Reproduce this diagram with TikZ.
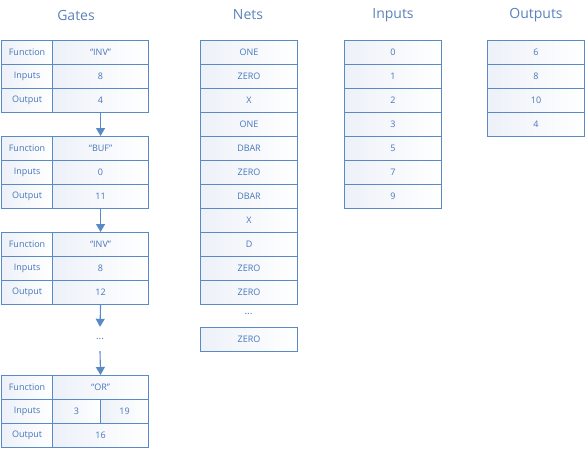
\documentclass[tikz,border=0pt]{standalone}
\usepackage{fontspec}
\setmainfont{Open Sans}
\usetikzlibrary{arrows.meta}
\definecolor{bordc}{HTML}{5A8AC6}
\definecolor{txtc}{HTML}{4677BA}
\definecolor{titc}{HTML}{5A82B8}
\definecolor{shadec}{HTML}{EDF1F8}
\tikzset{
  cell/.style={draw=bordc, line width=1.1pt, shade, shading angle=60, left color=shadec, right color=white,
    minimum height=24pt, inner sep=0pt, anchor=north west, text=txtc, font=\fontsize{9}{10}\selectfont},
  lab/.style={cell, minimum width=51pt},
  val/.style={cell, minimum width=96pt},
  half/.style={cell, minimum width=48pt},
  col/.style={cell, minimum width=97pt},
  title/.style={text=titc, font=\fontsize{14}{16}\selectfont, inner sep=0pt},
  dotsn/.style={text=txtc, font=\fontsize{10}{11}\selectfont, inner sep=0pt, minimum height=24pt},
  conn/.style={draw=bordc, line width=1.1pt, -{Triangle[width=9pt,length=8pt]}}
}
\begin{document}
\begin{tikzpicture}[x=1pt,y=-1pt]
\useasboundingbox (0,0) rectangle (585,448);
% titles
\node[title] (tg) at (76,15) {Gates};
\node[title] (tn) at (248,15) {Nets};
\node[title] (ti) at (393,15) {Inputs};
\node[title] (to) at (536,15) {Outputs};
% gate 1
\node[lab] (g1fl) at (1,40) {Function};
\node[val] (g1fv) at (52,40) {“INV”};
\node[lab] (g1il) at (1,64) {Inputs};
\node[val] (g1iv) at (52,64) {8};
\node[lab] (g1ol) at (1,88) {Output};
\node[val] (g1ov) at (52,88) {4};
% gate 2
\node[lab] (g2fl) at (1,136) {Function};
\node[val] (g2fv) at (52,136) {“BUF”};
\node[lab] (g2il) at (1,160) {Inputs};
\node[val] (g2iv) at (52,160) {0};
\node[lab] (g2ol) at (1,184) {Output};
\node[val] (g2ov) at (52,184) {11};
% gate 3
\node[lab] (g3fl) at (1,232) {Function};
\node[val] (g3fv) at (52,232) {“INV”};
\node[lab] (g3il) at (1,256) {Inputs};
\node[val] (g3iv) at (52,256) {8};
\node[lab] (g3ol) at (1,280) {Output};
\node[val] (g3ov) at (52,280) {12};
% dots
\node[dotsn] (gd) at (100,339) {...};
% gate 4
\node[lab] (g4fl) at (1,375) {Function};
\node[val] (g4fv) at (52,375) {“OR”};
\node[lab] (g4il) at (1,399) {Inputs};
\node[half] (g4ia) at (52,399) {3};
\node[half] (g4ib) at (100,399) {19};
\node[lab] (g4ol) at (1,423) {Output};
\node[val] (g4ov) at (52,423) {16};
% connectors
\draw[conn] (g1ov.south) -- (g2fv.north);
\draw[conn] (g2ov.south) -- (g3fv.north);
\draw[conn] (g3ov.south) -- (gd.north);
\draw[conn] (gd.south) -- (g4fv.north);
% nets
\node[col] (n1) at (200,40) {ONE};
\node[col] (n2) at (200,64) {ZERO};
\node[col] (n3) at (200,88) {X};
\node[col] (n4) at (200,112) {ONE};
\node[col] (n5) at (200,136) {DBAR};
\node[col] (n6) at (200,160) {ZERO};
\node[col] (n7) at (200,184) {DBAR};
\node[col] (n8) at (200,208) {X};
\node[col] (n9) at (200,232) {D};
\node[col] (n10) at (200,256) {ZERO};
\node[col] (n11) at (200,280) {ZERO};
\node[dotsn, minimum height=0pt] (nd) at (248.5,314) {...};
\node[col] (n12) at (200,327) {ZERO};
% inputs
\node[col] (i1) at (344,40) {0};
\node[col] (i2) at (344,64) {1};
\node[col] (i3) at (344,88) {2};
\node[col] (i4) at (344,112) {3};
\node[col] (i5) at (344,136) {5};
\node[col] (i6) at (344,160) {7};
\node[col] (i7) at (344,184) {9};
% outputs
\node[col] (o1) at (487,40) {6};
\node[col] (o2) at (487,64) {8};
\node[col] (o3) at (487,88) {10};
\node[col] (o4) at (487,112) {4};
\end{tikzpicture}
\end{document}
